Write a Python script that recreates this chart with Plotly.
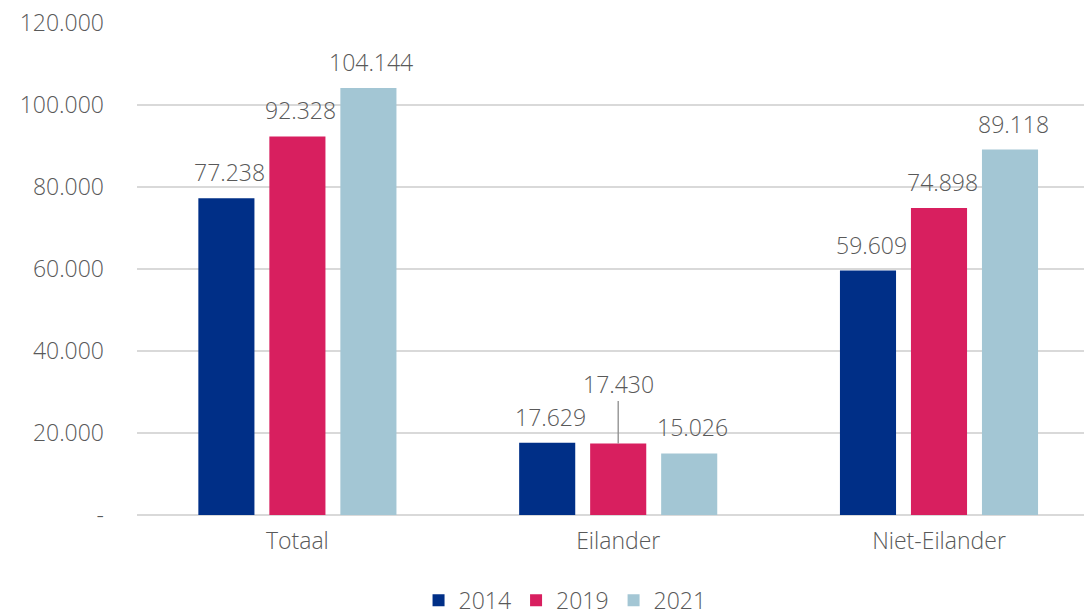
import plotly.graph_objects as go

categories = ["Totaal", "Eilander", "Niet-Eilander"]
years = ["2014", "2019", "2021"]
values_2014 = [77238, 17629, 59609]
values_2019 = [92328, 17430, 74898]
values_2021 = [104144, 15026, 89118]
colors = ["#002F87", "#D81F5F", "#A3C6D4"]
tick_vals = [0, 20000, 40000, 60000, 80000, 100000, 120000]
tick_text = ["-", "20.000", "40.000", "60.000", "80.000", "100.000", "120.000"]

series = [values_2014, values_2019, values_2021]
FONT = "Open Sans"
GRAY = "#595959"
FS = 23

fig = go.Figure()
for name, vals, col in zip(years, series, colors):
    fig.add_trace(go.Bar(x=categories, y=vals, name=name, marker=dict(color=col, line=dict(width=0))))

def fmt(v):
    return f"{v:,}".replace(",", ".")

offsets = [-71, 0, 71]
for si, vals in enumerate(series):
    for ci, v in enumerate(vals):
        if categories[ci] == "Eilander" and years[si] == "2019":
            fig.add_annotation(x=categories[ci], y=v, xshift=offsets[si], text=fmt(v),
                               showarrow=True, arrowhead=0, arrowwidth=1.3, arrowcolor="#8C8C8C",
                               ax=0, ay=-60, standoff=0,
                               font=dict(family=FONT, size=FS, color=GRAY, weight=300))
        else:
            fig.add_annotation(x=categories[ci], y=v, xshift=offsets[si] + 3, yshift=26,
                               text=fmt(v), showarrow=False, yanchor="middle",
                               font=dict(family=FONT, size=FS, color=GRAY, weight=300))

fig.update_layout(
    width=1084, height=615,
    margin=dict(l=137, r=0, t=23, b=100),
    paper_bgcolor="white", plot_bgcolor="white",
    barmode="group", bargap=0.336, bargroupgap=0.21,
    font=dict(family=FONT, size=FS, color=GRAY, weight=300),
    showlegend=True,
    legend=dict(orientation="h", x=0.452, xanchor="center", yref="container", y=0.024,
                yanchor="middle",
                font=dict(family=FONT, size=FS, color=GRAY, weight=300), itemwidth=30,
                tracegroupgap=0, itemsizing="constant"),
)
fig.update_xaxes(range=[-0.5, 2.452], showgrid=False, showline=False, ticks="", automargin=False,
                 tickfont=dict(family=FONT, size=FS, color=GRAY, weight=300), ticklabelstandoff=10)
fig.update_yaxes(range=[0, 120000], tickvals=tick_vals, ticktext=tick_text, automargin=False,
                 showgrid=True, gridcolor="#D9D9D9", gridwidth=1.5,
                 zeroline=True, zerolinecolor="#D9D9D9", zerolinewidth=1.5,
                 showline=False, ticks="", ticklabelstandoff=32,
                 tickfont=dict(family=FONT, size=FS, color=GRAY, weight=300))

fig.write_html("out.html", config={"displayModeBar": False},
               post_script="document.body.style.margin='0';document.body.style.padding='0';")
